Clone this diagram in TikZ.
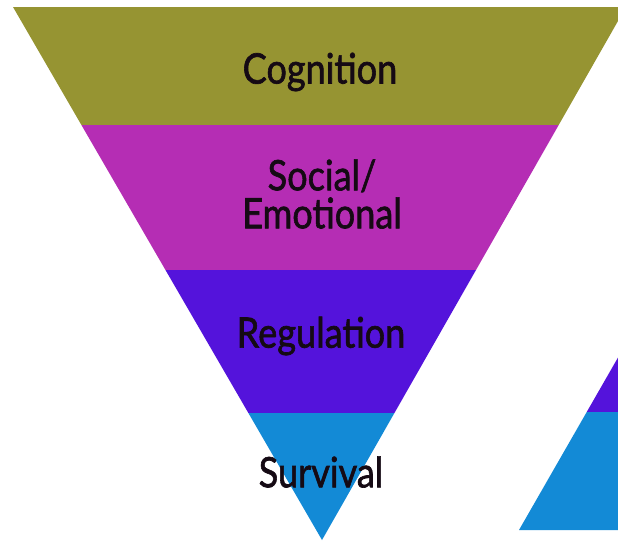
\documentclass[tikz,border=0pt]{standalone}
\usepackage{fontspec}
\setmainfont{Lato}
\newfontfamily\labelfont{Lato}[FakeBold=1.6]
\definecolor{cogcol}{HTML}{969432}
\definecolor{soccol}{HTML}{B52DB4}
\definecolor{regcol}{HTML}{5413DB}
\definecolor{surcol}{HTML}{138AD6}
\definecolor{txtcol}{HTML}{150A14}
\begin{document}
\begin{tikzpicture}[x=1pt,y=-1pt,
  label/.style={text=txtcol,font=\labelfont\fontsize{42}{38}\selectfont,align=center,inner sep=0pt,xscale=0.86}]
\useasboundingbox (0,0) rectangle (618,541);
\begin{scope}
  \clip (13,7) -- (626,7) -- (322,540) -- cycle;
  \fill[cogcol] (0,0) rectangle (640,125);
  \fill[soccol] (0,125) rectangle (640,270);
  \fill[regcol] (0,270) rectangle (640,413);
  \fill[surcol] (0,413) rectangle (640,545);
\end{scope}
\begin{scope}
  \clip (519,530) -- (651,300) -- (760,530) -- cycle;
  \fill[regcol] (500,290) rectangle (640,412);
  \fill[surcol] (500,412) rectangle (640,531);
\end{scope}
\node[label] (cog) at (320,72) {Cognition};
\node[label] (soc) at (322,194) {Social/\\Emotional};
\node[label] (reg) at (321,336) {Regulation};
\node[label] (sur) at (321,472) {Survival};
\end{tikzpicture}
\end{document}
